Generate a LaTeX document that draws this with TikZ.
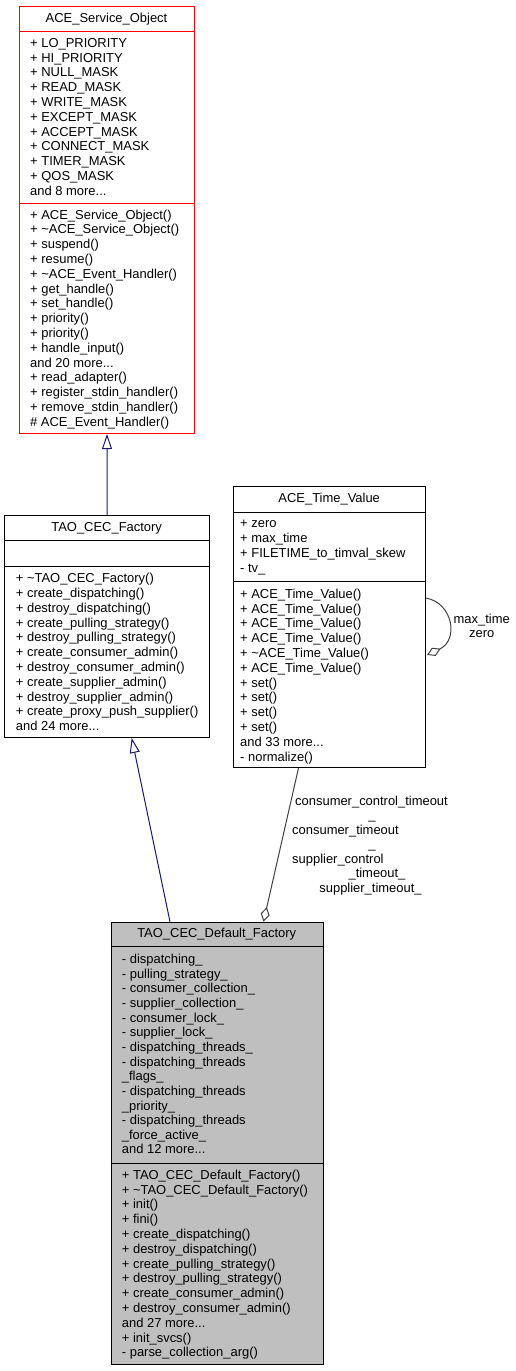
\documentclass[tikz,border=0pt]{standalone}
\usepackage{fontspec}
\setmainfont{Liberation Sans}
\usetikzlibrary{arrows.meta,calc}
\definecolor{navyblue}{HTML}{191970}
\definecolor{aggrey}{HTML}{404040}
\definecolor{fillgrey}{HTML}{BFBFBF}
\newcommand\umlfont{\fontsize{12.95}{14.8}\selectfont}
\newcommand\tdots{...}
\begin{document}
\begin{tikzpicture}[x=1pt,y=-1pt,
  classbox/.style={draw, line width=1pt, inner sep=0pt, anchor=north west},
  txt/.style={anchor=base west, inner sep=0pt, font=\umlfont},
  ctxt/.style={anchor=base, inner sep=0pt, font=\umlfont},
  inh/.style={draw=navyblue, line width=1pt, -{Triangle[open,length=15pt,width=10pt]}},
  agg/.style={draw=aggrey, line width=1pt, -{Diamond[open,length=15pt,width=9pt]}},
]
\useasboundingbox (0,0) rectangle (516,1371);

% ACE_Service_Object
\node[classbox, draw=red, minimum width=175pt, minimum height=427pt] (so) at (19,6) {};
\draw[red, line width=1pt] ($(so.north west)+(0,25)$) -- ($(so.north east)+(0,25)$);
\draw[red, line width=1pt] ($(so.north west)+(0,197)$) -- ($(so.north east)+(0,197)$);
\node[ctxt] (so-title) at (106.5,22.5) {ACE\_Service\_Object};
\foreach \t [count=\i from 0] in {+ LO\_PRIORITY,+ HI\_PRIORITY,+ NULL\_MASK,+ READ\_MASK,+ WRITE\_MASK,+ EXCEPT\_MASK,+ ACCEPT\_MASK,+ CONNECT\_MASK,+ TIMER\_MASK,+ QOS\_MASK,{and 8 more\tdots}}
  \node[txt] (so-a\i) at (30,47.3+\i*14.8) {\t};
\foreach \t [count=\i from 0] in {+ ACE\_Service\_Object(),+ \textasciitilde ACE\_Service\_Object(),+ suspend(),+ resume(),+ \textasciitilde ACE\_Event\_Handler(),+ get\_handle(),+ set\_handle(),+ priority(),+ priority(),+ handle\_input(),{and 20 more\tdots},+ read\_adapter(),+ register\_stdin\_handler(),+ remove\_stdin\_handler(),\# ACE\_Event\_Handler()}
  \node[txt] (so-m\i) at (30,219+\i*14.8) {\t};

% TAO_CEC_Factory
\node[classbox, minimum width=204.7pt, minimum height=222pt] (cf) at (4.3,515) {};
\draw[line width=1pt] ($(cf.north west)+(0,25)$) -- ($(cf.north east)+(0,25)$);
\draw[line width=1pt] ($(cf.north west)+(0,51)$) -- ($(cf.north east)+(0,51)$);
\node[ctxt] (cf-title) at (106.65,531.7) {TAO\_CEC\_Factory};
\foreach \t [count=\i from 0] in {+ \textasciitilde TAO\_CEC\_Factory(),+ create\_dispatching(),+ destroy\_dispatching(),+ create\_pulling\_strategy(),+ destroy\_pulling\_strategy(),+ create\_consumer\_admin(),+ destroy\_consumer\_admin(),+ create\_supplier\_admin(),+ destroy\_supplier\_admin(),+ create\_proxy\_push\_supplier(),{and 24 more\tdots}}
  \node[txt] (cf-m\i) at (15.7,582.7+\i*14.8) {\t};

% ACE_Time_Value
\node[classbox, minimum width=191.7pt, minimum height=281pt] (tv) at (233.3,486) {};
\draw[line width=1pt] ($(tv.north west)+(0,26)$) -- ($(tv.north east)+(0,26)$);
\draw[line width=1pt] ($(tv.north west)+(0,95)$) -- ($(tv.north east)+(0,95)$);
\node[ctxt] (tv-title) at (329.2,502.5) {ACE\_Time\_Value};
\foreach \t [count=\i from 0] in {+ zero,+ max\_time,+ FILETIME\_to\_timval\_skew,- tv\_}
  \node[txt] (tv-a\i) at (240,527.7+\i*14.8) {\t};
\foreach \t [count=\i from 0] in {+ ACE\_Time\_Value(),+ ACE\_Time\_Value(),+ ACE\_Time\_Value(),+ ACE\_Time\_Value(),+ \textasciitilde ACE\_Time\_Value(),+ ACE\_Time\_Value(),+ set(),+ set(),+ set(),+ set(),{and 33 more\tdots},- normalize()}
  \node[txt] (tv-m\i) at (240,598.3+\i*14.8) {\t};

% TAO_CEC_Default_Factory
\node[classbox, fill=fillgrey, minimum width=212pt, minimum height=442.3pt] (df) at (110.7,921.7) {};
\draw[line width=1pt] ($(df.north west)+(0,24.8)$) -- ($(df.north east)+(0,24.8)$);
\draw[line width=1pt] ($(df.north west)+(0,241.3)$) -- ($(df.north east)+(0,241.3)$);
\node[ctxt] (df-title) at (216.7,937.3) {TAO\_CEC\_Default\_Factory};
\foreach \t [count=\i from 0] in {- dispatching\_,- pulling\_strategy\_,- consumer\_collection\_,- supplier\_collection\_,- consumer\_lock\_,- supplier\_lock\_,- dispatching\_threads\_,- dispatching\_threads,\_flags\_,- dispatching\_threads,\_priority\_,- dispatching\_threads,\_force\_active\_,{and 12 more\tdots}}
  \node[txt] (df-a\i) at (121.7,963.5+\i*14.65) {\t};
\foreach \t [count=\i from 0] in {+ TAO\_CEC\_Default\_Factory(),+ \textasciitilde TAO\_CEC\_Default\_Factory(),+ init(),+ fini(),+ create\_dispatching(),+ destroy\_dispatching(),+ create\_pulling\_strategy(),+ destroy\_pulling\_strategy(),+ create\_consumer\_admin(),+ destroy\_consumer\_admin(),{and 27 more\tdots},+ init\_svcs(),- parse\_collection\_arg()}
  \node[txt] (df-m\i) at (121.7,1179.3+\i*14.8) {\t};

% Inheritance
\draw[inh] (cf.north) -- (so.south);
\draw[inh] ($(df.north west)+(59.3,0)$) -- ($(cf.south west)+(127.4,0)$);

% Aggregation: self loop on ACE_Time_Value
\draw[agg] ($(tv.north east)+(0,112)$) .. controls ($(tv.north east)+(27,117)$) and ($(tv.north east)+(33,154)$) .. ($(tv.north east)+(1,169)$);
\node[ctxt] (lbl-max) at (481.7,623) {max\_time};
\node[ctxt] (lbl-zero) at (481.7,637.5) {zero};

% Aggregation: ACE_Time_Value -> TAO_CEC_Default_Factory
\draw[agg] ($(tv.south west)+(65.2,0)$) -- ($(df.north west)+(152.8,0)$);
\node[txt] (lbl1) at (295,805) {consumer\_control\_timeout};
\node[ctxt] (lbl2) at (372,819.5) {\_};
\node[txt] (lbl3) at (292,834) {consumer\_timeout};
\node[ctxt] (lbl4) at (372,848.5) {\_};
\node[txt] (lbl5) at (292,863) {supplier\_control};
\node[ctxt] (lbl6) at (377,877.5) {\_timeout\_};
\node[ctxt] (lbl7) at (370.5,892) {supplier\_timeout\_};
\end{tikzpicture}
\end{document}
